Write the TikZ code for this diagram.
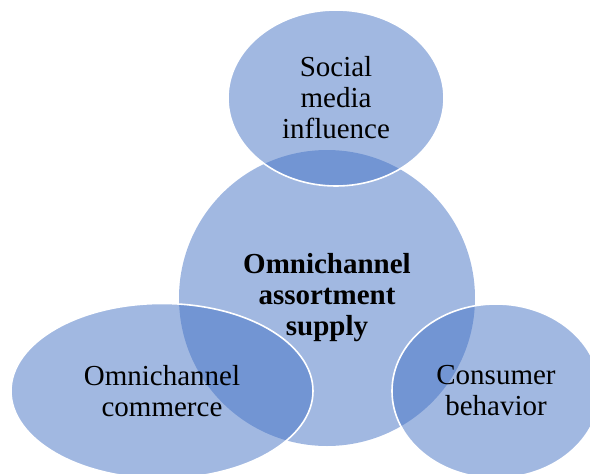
\documentclass[tikz,border=0pt]{standalone}
\usepackage{fontspec}
\setmainfont{Liberation Serif}
\usetikzlibrary{shapes.geometric}
\definecolor{smartblue}{RGB}{68, 114, 196}

\begin{document}
\begin{tikzpicture}[x=1pt, y=-1pt,
  bubble/.style={ellipse, fill=smartblue, fill opacity=0.5, text opacity=1, draw=white, draw opacity=1, line width=1.6pt, inner sep=0pt, align=center, font=\fontsize{29}{31}\selectfont}]
  \useasboundingbox (0, 0) rectangle (590, 474);
  \clip (0, 0) rectangle (590, 474);

  % Core
  \node[bubble, draw=none, minimum width=296pt, minimum height=296pt, font=\fontsize{29}{31}\selectfont\bfseries] (core) at (327, 298) {Omnichannel\\assortment\\supply};

  % Social media
  \node[bubble, minimum width=216pt, minimum height=176pt] (social) at (336, 98) {Social\\media\\influence};

  % Commerce
  \node[bubble, minimum width=302pt, minimum height=175pt] (commerce) at (162, 391) {Omnichannel\\commerce};

  % Consumers
  \node[bubble, minimum width=208pt, minimum height=174pt] (consumer) at (496, 391) {Consumer\\behavior};
\end{tikzpicture}
\end{document}
